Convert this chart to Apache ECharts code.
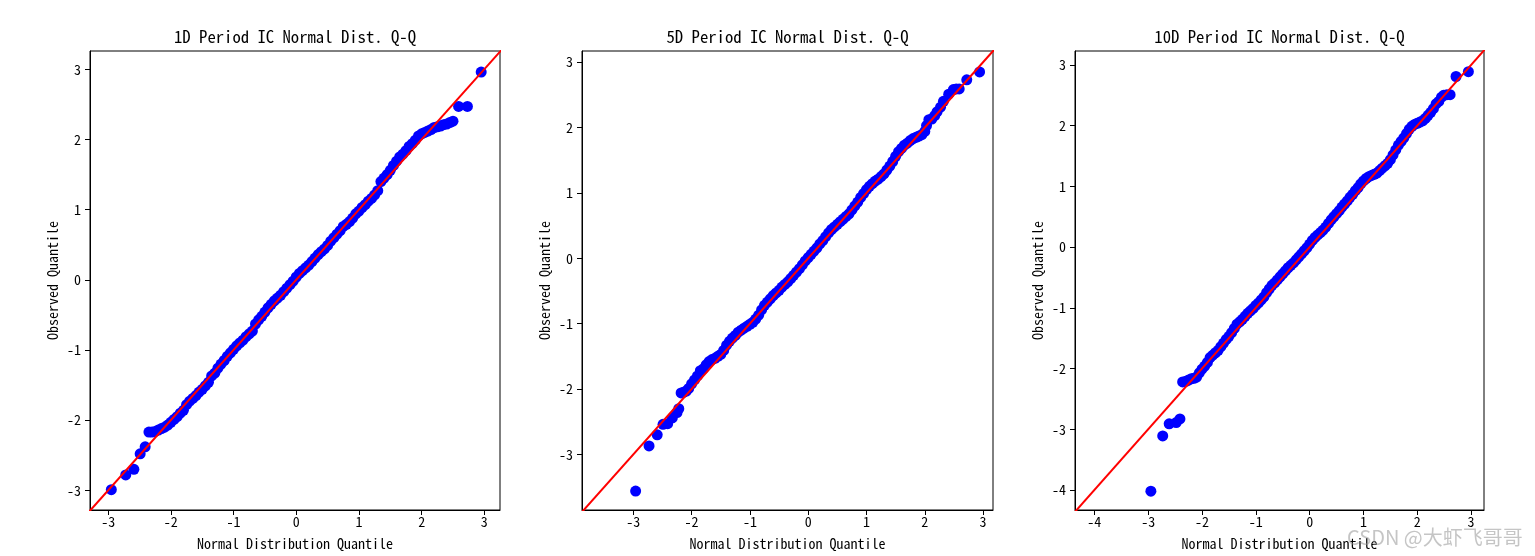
<!DOCTYPE html>
<html>
<head>
<meta charset="utf-8">
<script src="https://cdn.jsdelivr.net/npm/echarts@6/dist/echarts.min.js"></script>
<style>
    html, body { margin: 0; padding: 0; background: #fff; }
    #qq { width: 1535px; height: 556px; }
</style>
</head>
<body>
<div id="qq"></div>
<script>
let qq_chart = echarts.init(document.getElementById('qq'));

// titles
let titles = ['1D Period IC Normal Dist. Q-Q', '5D Period IC Normal Dist. Q-Q', '10D Period IC Normal Dist. Q-Q'];

// tick labels
let ticks_1d_x = [-3, -2, -1, 0, 1, 2, 3];
let ticks_1d_y = [-3, -2, -1, 0, 1, 2, 3];
let ticks_5d_x = [-3, -2, -1, 0, 1, 2, 3];
let ticks_5d_y = [-3, -2, -1, 0, 1, 2, 3];
let ticks_10d_x = [-4, -3, -2, -1, 0, 1, 2, 3];
let ticks_10d_y = [-4, -3, -2, -1, 0, 1, 2, 3];

// 1D: theoretical quantile / observed quantile
let x_1d = [-2.95, -2.72, -2.59, -2.49, -2.41,
    -2.35, -2.30, -2.25, -2.20, -2.15, -2.10, -2.05, -2.00, -1.95, -1.90, -1.85, -1.80, -1.75, -1.70, -1.65, -1.60,
    -1.55, -1.50, -1.45, -1.40, -1.35, -1.30, -1.25, -1.20, -1.15, -1.10, -1.05, -1.00, -0.95, -0.90, -0.85, -0.80,
    -0.75, -0.70, -0.65, -0.60, -0.55, -0.50, -0.45, -0.40, -0.35, -0.30, -0.25, -0.20, -0.15, -0.10, -0.05, 0.00,
    0.05, 0.10, 0.15, 0.20, 0.25, 0.30, 0.35, 0.40, 0.45, 0.50, 0.55, 0.60, 0.65, 0.70, 0.75, 0.80, 0.85, 0.90,
    0.95, 1.00, 1.05, 1.10, 1.15, 1.20, 1.25, 1.30, 1.35, 1.40, 1.45, 1.50, 1.55, 1.60, 1.65, 1.70, 1.75, 1.80,
    1.85, 1.90, 1.95, 2.00, 2.05, 2.10, 2.15, 2.20, 2.25, 2.30, 2.35, 2.40, 2.45, 2.50,
    2.59, 2.73, 2.95];
let y_1d = [-2.99, -2.78, -2.70, -2.48, -2.38,
    -2.17, -2.17, -2.16, -2.14, -2.12, -2.10, -2.07, -2.03, -1.99, -1.95, -1.90, -1.86, -1.78, -1.73, -1.69, -1.65,
    -1.60, -1.56, -1.51, -1.46, -1.37, -1.33, -1.26, -1.20, -1.15, -1.09, -1.04, -0.99, -0.94, -0.90, -0.86, -0.81,
    -0.77, -0.73, -0.63, -0.57, -0.52, -0.46, -0.40, -0.35, -0.30, -0.26, -0.22, -0.17, -0.12, -0.07, -0.02, 0.04,
    0.09, 0.13, 0.17, 0.21, 0.26, 0.31, 0.36, 0.40, 0.44, 0.49, 0.55, 0.60, 0.65, 0.70, 0.76, 0.79, 0.83, 0.88,
    0.94, 0.98, 1.03, 1.07, 1.12, 1.16, 1.21, 1.27, 1.40, 1.45, 1.50, 1.56, 1.63, 1.69, 1.75, 1.79, 1.84, 1.90,
    1.94, 1.99, 2.05, 2.08, 2.10, 2.12, 2.14, 2.17, 2.18, 2.19, 2.21, 2.22, 2.24, 2.26,
    2.47, 2.47, 2.96];

// 5D
let x_5d = [-2.96, -2.73, -2.59, -2.49, -2.41, -2.33, -2.25, -2.22,
    -2.18, -2.14, -2.09, -2.05, -2.00, -1.95, -1.90, -1.85, -1.80, -1.75, -1.70, -1.65, -1.60, -1.55, -1.50,
    -1.45, -1.40, -1.35, -1.30, -1.25, -1.20, -1.15, -1.10, -1.05, -1.00, -0.95, -0.90, -0.85, -0.80, -0.75,
    -0.70, -0.65, -0.60, -0.55, -0.50, -0.45, -0.40, -0.35, -0.30, -0.25, -0.20, -0.15, -0.10, -0.05, 0.00,
    0.05, 0.10, 0.15, 0.20, 0.25, 0.30, 0.35, 0.40, 0.45, 0.50, 0.55, 0.60, 0.65, 0.70, 0.75, 0.80, 0.85, 0.90,
    0.95, 1.00, 1.05, 1.10, 1.15, 1.20, 1.25, 1.30, 1.35, 1.40, 1.45, 1.50, 1.55, 1.60, 1.65, 1.70, 1.75, 1.80,
    1.85, 1.90, 1.95, 2.00, 2.03, 2.07, 2.12, 2.17, 2.21, 2.27, 2.32,
    2.41, 2.49, 2.54, 2.59, 2.72, 2.94];
let y_5d = [-3.56, -2.87, -2.70, -2.54, -2.53, -2.44, -2.36, -2.30,
    -2.06, -2.05, -2.03, -1.99, -1.92, -1.86, -1.80, -1.72, -1.69, -1.63, -1.58, -1.55, -1.53, -1.50, -1.47,
    -1.41, -1.33, -1.27, -1.22, -1.18, -1.13, -1.10, -1.07, -1.04, -1.01, -0.98, -0.93, -0.87, -0.79, -0.72,
    -0.67, -0.62, -0.57, -0.53, -0.49, -0.44, -0.40, -0.36, -0.31, -0.26, -0.21, -0.16, -0.10, -0.04, 0.01,
    0.06, 0.11, 0.16, 0.22, 0.27, 0.33, 0.39, 0.44, 0.48, 0.52, 0.56, 0.60, 0.64, 0.68, 0.74, 0.80, 0.86, 0.93,
    0.99, 1.05, 1.10, 1.14, 1.18, 1.21, 1.25, 1.29, 1.35, 1.41, 1.48, 1.56, 1.63, 1.68, 1.73, 1.76, 1.80, 1.83,
    1.85, 1.87, 1.89, 1.94, 2.03, 2.12, 2.13, 2.18, 2.24, 2.31, 2.40,
    2.51, 2.58, 2.59, 2.59, 2.73, 2.85];

// 10D
let x_10d = [-2.95, -2.73, -2.61, -2.48, -2.41,
    -2.36, -2.30, -2.25, -2.20, -2.15, -2.10, -2.05, -2.00, -1.95, -1.90, -1.85, -1.80, -1.75, -1.70, -1.65, -1.60,
    -1.55, -1.50, -1.45, -1.40, -1.35, -1.30, -1.25, -1.20, -1.15, -1.10, -1.05, -1.00, -0.95, -0.90, -0.85, -0.80,
    -0.75, -0.70, -0.65, -0.60, -0.55, -0.50, -0.45, -0.40, -0.35, -0.30, -0.25, -0.20, -0.15, -0.10, -0.05, 0.00,
    0.05, 0.10, 0.15, 0.20, 0.25, 0.30, 0.35, 0.40, 0.45, 0.50, 0.55, 0.60, 0.65, 0.70, 0.75, 0.80, 0.85, 0.90,
    0.95, 1.00, 1.05, 1.10, 1.15, 1.20, 1.25, 1.30, 1.35, 1.40, 1.45, 1.50, 1.55, 1.60, 1.65, 1.70, 1.75, 1.80,
    1.85, 1.90, 1.95, 2.00, 2.05, 2.10, 2.15, 2.20, 2.25, 2.30, 2.35, 2.40, 2.45, 2.49,
    2.55, 2.61, 2.72, 2.95];
let y_10d = [-4.02, -3.11, -2.91, -2.89, -2.83,
    -2.22, -2.21, -2.19, -2.17, -2.16, -2.14, -2.07, -2.01, -1.96, -1.90, -1.82, -1.78, -1.74, -1.70, -1.64, -1.58,
    -1.52, -1.47, -1.41, -1.34, -1.27, -1.23, -1.19, -1.14, -1.09, -1.05, -1.01, -0.96, -0.92, -0.87, -0.82, -0.75,
    -0.69, -0.63, -0.59, -0.54, -0.49, -0.44, -0.39, -0.34, -0.30, -0.26, -0.21, -0.16, -0.11, -0.06, -0.01, 0.05,
    0.11, 0.16, 0.20, 0.24, 0.28, 0.33, 0.39, 0.45, 0.50, 0.55, 0.60, 0.66, 0.71, 0.76, 0.82, 0.87, 0.93, 0.98,
    1.04, 1.09, 1.13, 1.16, 1.18, 1.20, 1.22, 1.26, 1.30, 1.34, 1.38, 1.44, 1.52, 1.60, 1.68, 1.74, 1.80, 1.87,
    1.94, 1.99, 2.02, 2.04, 2.06, 2.08, 2.12, 2.17, 2.22, 2.28, 2.36, 2.40, 2.47, 2.50,
    2.51, 2.51, 2.81, 2.89];

// axis extents
let x_range = [[-3.29, 3.25], [-3.88, 3.17], [-4.36, 3.24]];
let y_range = [[-3.28, 3.26], [-3.85, 3.17], [-4.33, 3.23]];

let font = '"Noto Sans Mono CJK SC", "DejaVu Sans Mono", monospace';

let grids = [
    {left: 90, top: 51, width: 410, height: 461},
    {left: 582, top: 51, width: 411, height: 461},
    {left: 1075, top: 51, width: 409, height: 461}
];

function zip(xs, ys) {
    let out = [];
    for (let i = 0; i < xs.length; i++) {
        out.push([xs[i], ys[i]]);
    }
    return out;
}

function get_axis(range, ticks, name, is_x, idx) {
    return {
        type: 'value',
        gridIndex: idx,
        min: range[0],
        max: range[1],
        name: name,
        nameLocation: 'middle',
        nameGap: is_x ? 27 : 30,
        nameTextStyle: {color: '#000', fontFamily: font, fontSize: 14},
        axisLine: {show: true, onZero: false, lineStyle: {color: '#000', width: 1}},
        axisTick: {show: true, length: 5, lineStyle: {color: '#000'}, customValues: ticks},
        axisLabel: {color: '#000', fontFamily: font, fontSize: 14, margin: is_x ? 5 : 9, customValues: ticks},
        splitLine: {show: false}
    };
}

let xs = [x_1d, x_5d, x_10d];
let ys = [y_1d, y_5d, y_10d];
let x_ticks = [ticks_1d_x, ticks_5d_x, ticks_10d_x];
let y_ticks = [ticks_1d_y, ticks_5d_y, ticks_10d_y];

let option = {
    backgroundColor: '#fff',
    animation: false,
    grid: [],
    xAxis: [],
    yAxis: [],
    series: [],
    graphic: []
};

for (let i = 0; i < 3; i++) {
    let g = grids[i];
    option.grid.push(Object.assign({show: true, borderColor: '#000', borderWidth: 1, backgroundColor: '#fff'}, g));
    option.xAxis.push(get_axis(x_range[i], x_ticks[i], 'Normal Distribution Quantile', true, i));
    option.yAxis.push(get_axis(y_range[i], y_ticks[i], 'Observed Quantile', false, i));
    option.series.push({
        type: 'scatter',
        xAxisIndex: i,
        yAxisIndex: i,
        data: zip(xs[i], ys[i]),
        symbol: 'circle',
        symbolSize: 11,
        itemStyle: {color: '#0000ff', opacity: 1},
        z: 2
    });
    // 45 degree reference line
    option.series.push({
        type: 'line',
        xAxisIndex: i,
        yAxisIndex: i,
        data: [[-5, -5], [5, 5]],
        showSymbol: false,
        clip: true,
        lineStyle: {color: '#ff0000', width: 2},
        z: 3
    });
    option.graphic.push({
        type: 'text',
        x: g.left + g.width / 2,
        y: 37,
        style: {
            text: titles[i],
            font: '16.7px ' + font,
            fill: '#000',
            textAlign: 'center',
            textVerticalAlign: 'middle'
        }
    });
}

option.graphic.push({
    type: 'text',
    x: 1347,
    y: 537,
    z: 10,
    style: {
        text: 'CSDN @大虾飞哥哥',
        font: '20px "Noto Sans CJK SC", sans-serif',
        fill: 'rgba(150,150,150,0.55)',
        textAlign: 'left',
        textVerticalAlign: 'middle'
    }
});

qq_chart.setOption(option);
</script>
</body>
</html>
